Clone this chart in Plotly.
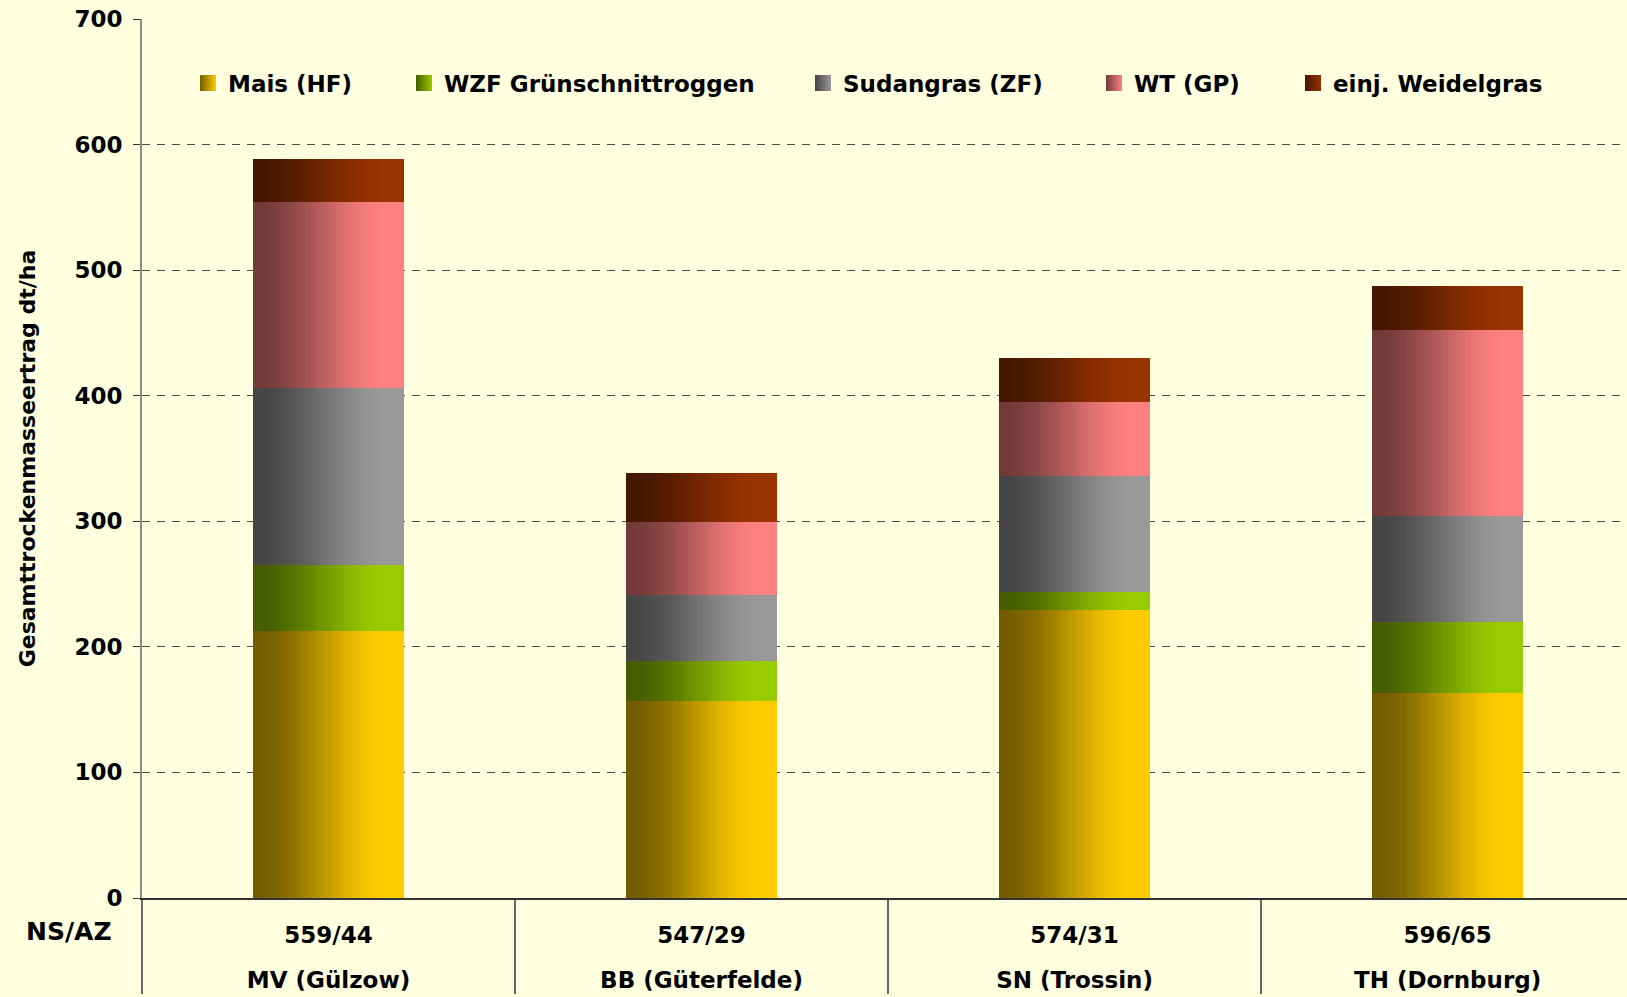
import plotly.graph_objects as go

# ---- data ----
regions = ["MV (Gülzow)", "BB (Güterfelde)", "SN (Trossin)", "TH (Dornburg)"]
ns_az = ["559/44", "547/29", "574/31", "596/65"]
series_names = ["Mais (HF)", "WZF Grünschnittroggen", "Sudangras (ZF)", "WT (GP)", "einj. Weidelgras"]
mais = [213, 157, 229, 163]
wzf = [52, 32, 14.5, 56.5]
sudangras = [141.5, 52.5, 92.5, 84.5]
wt = [147.5, 58, 59, 148]
weidelgras = [34.5, 39, 35, 35]
y_ticks = [0, 100, 200, 300, 400, 500, 600, 700]

series_values = [mais, wzf, sudangras, wt, weidelgras]
right_colors = [(255, 204, 0), (153, 204, 0), (153, 153, 153), (255, 128, 128), (153, 51, 0)]

FONT = "DejaVu Sans"
BAR_W = 0.405
N = 48
step = BAR_W / N


def smooth(u):
    u = max(0.0, min(1.0, u))
    return u * u * (3 - 2 * u)


def shade(rgb, t):
    f = 0.45 + 0.55 * smooth(t / 0.9)
    return "rgb(%d,%d,%d)" % tuple(round(c * f) for c in rgb)


def bold(size):
    return dict(family=FONT, size=size, color="#000000", weight="bold")


# inner labels get an empty second line so the outer row sits lower
inner_labels = [lab + "<br><span style='font-size:34px'>\u00a0</span>" for lab in ns_az]
xcat = [regions, inner_labels]

fig = go.Figure()
base = [0.0] * len(regions)
legend_ids = ["legend", "legend2", "legend3", "legend4", "legend5"]
for s, (name, vals, rgb) in enumerate(zip(series_names, series_values, right_colors)):
    for i in range(N):
        t = (i + 0.5) / N
        w = step * (1.25 if i < N - 1 else 1.0)
        fig.add_trace(go.Bar(
            x=xcat, y=vals, base=list(base),
            width=w, offset=-BAR_W / 2 + i * step,
            marker=dict(color=shade(rgb, t), line=dict(width=0)),
            name=name, legendgroup=name, legend=legend_ids[s],
            showlegend=False,
            hoverinfo="skip",
        ))
    # legend entry: gradient square marker
    fig.add_trace(go.Scatter(
        x=[[None], [None]], y=[None], mode="markers",
        marker=dict(symbol="square", size=16, color=shade(rgb, 0.0),
                    gradient=dict(type="horizontal", color=shade(rgb, 1.0)),
                    line=dict(width=0)),
        name=name, legendgroup=name, legend=legend_ids[s], showlegend=True,
        hoverinfo="skip",
    ))
    base = [b + v for b, v in zip(base, vals)]

# legend placement (one legend per entry)
plot_l, plot_w = 142, 1485
text_starts = [228, 444, 843, 1134, 1333]
legend_layouts = {}
for k, lid in enumerate(legend_ids):
    legend_layouts[lid] = dict(
        x=(text_starts[k] - 40 - plot_l) / plot_w, xanchor="left",
        y=0.927, yanchor="middle",
        orientation="h", bgcolor="rgba(0,0,0,0)", borderwidth=0,
        font=bold(23), itemsizing="trace",
        traceorder="normal",
    )

fig.update_layout(
    width=1627, height=997,
    margin=dict(l=142, r=0, t=19, b=99, autoexpand=False),
    paper_bgcolor="#FFFFE0", plot_bgcolor="#FFFFE0",
    barmode="overlay", bargap=0,
    font=bold(23),
    **legend_layouts,
)

fig.update_yaxes(
    range=[0, 700], tickvals=y_ticks, ticktext=[str(v) for v in y_ticks],
    showgrid=True, gridcolor="#4a4a4a", griddash="8px,7px", gridwidth=1.2,
    showline=True, linecolor="#8a8a80", linewidth=2,
    ticks="outside", ticklen=7, tickcolor="#333333",
    tickfont=bold(23),
    ticklabelstandoff=6,
    zeroline=False,
    title=dict(text="Gesamttrockenmasseertrag dt/ha", font=bold(22), standoff=33),
)

fig.update_xaxes(
    type="multicategory", range=[-0.5, 3.481],
    showline=True, linecolor="#333333", linewidth=1.5,
    showgrid=False, ticks="",
    showdividers=True, dividercolor="#666666", dividerwidth=1.5,
    tickfont=bold(23),
    ticklabelstandoff=16,
)

fig.add_annotation(
    text="NS/AZ", xref="paper", yref="paper",
    x=(69 - plot_l) / plot_w, y=-(931 - 897.6) / 879,
    xanchor="center", yanchor="middle", showarrow=False,
    font=bold(25),
)

fig.write_html("out.html", post_script="document.body.style.margin='0';",
               config={"displayModeBar": False})
